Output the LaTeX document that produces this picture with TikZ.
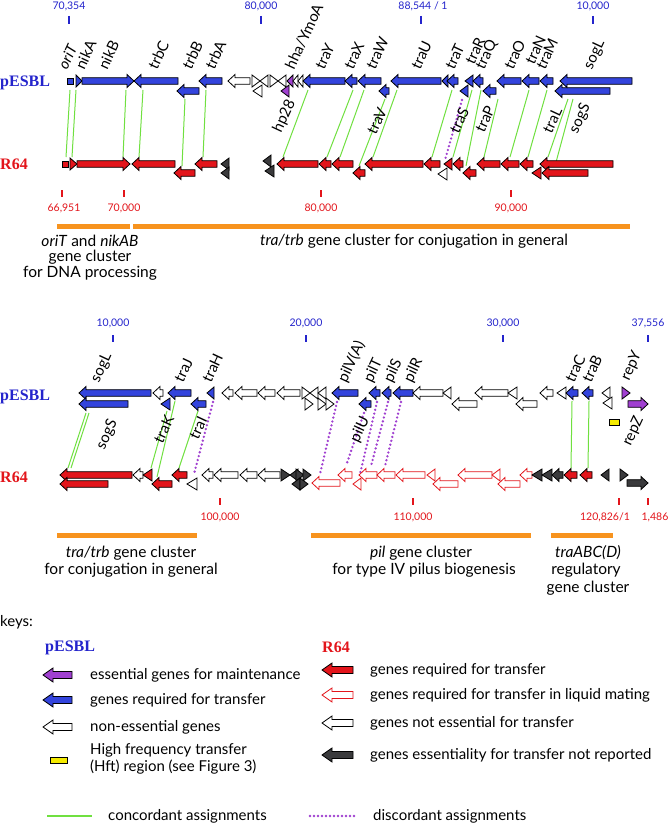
\documentclass[tikz,border=0pt]{standalone}
\usepackage{fontspec}
\setmainfont{Lato}
\newfontfamily\serifb{Liberation Serif}
\definecolor{gblue}{HTML}{3344DD}
\definecolor{lblue}{HTML}{2424CC}
\definecolor{gred}{HTML}{E3151B}
\definecolor{gdark}{HTML}{3A3A3C}
\definecolor{gpur}{HTML}{A040D0}
\definecolor{ggreen}{HTML}{70E040}
\definecolor{gorange}{HTML}{F7931E}
\definecolor{gyel}{HTML}{F5EB00}
\def\gL#1#2#3#4{\filldraw[#4] (#1,#3) -- ({#1+7},{#3-6.5}) -- ({#1+7},{#3-3.3}) -- (#2,{#3-3.3}) -- (#2,{#3+3.3}) -- ({#1+7},{#3+3.3}) -- ({#1+7},{#3+6.5}) -- cycle;}
\def\gR#1#2#3#4{\filldraw[#4] (#2,#3) -- ({#2-7},{#3-6.5}) -- ({#2-7},{#3-3.3}) -- (#1,{#3-3.3}) -- (#1,{#3+3.3}) -- ({#2-7},{#3+3.3}) -- ({#2-7},{#3+6.5}) -- cycle;}
\def\tL#1#2#3#4{\filldraw[#4] (#1,#3) -- (#2,{#3-6}) -- (#2,{#3+6}) -- cycle;}
\def\tR#1#2#3#4{\filldraw[#4] (#2,#3) -- (#1,{#3-6}) -- (#1,{#3+6}) -- cycle;}
\def\sq#1#2#3#4{\filldraw[#4] (#1,{#3-3}) rectangle (#2,{#3+3});}
\def\kL#1#2#3#4{\filldraw[#4] (#1,#3) -- ({#1+10},{#3-7}) -- ({#1+10},{#3-3.5}) -- (#2,{#3-3.5}) -- (#2,{#3+3.5}) -- ({#1+10},{#3+3.5}) -- ({#1+10},{#3+7}) -- cycle;}
\begin{document}
\begin{tikzpicture}[x=1pt,y=-1pt,
  gene/.style={line width=0.8pt,line join=miter},
  blu/.style={gene,fill=gblue,draw=black},
  rd/.style={gene,fill=gred,draw=black},
  wh/.style={gene,fill=white,draw=black},
  dk/.style={gene,fill=gdark,draw=black},
  pu/.style={gene,fill=gpur,draw=black},
  ro/.style={gene,fill=white,draw=gred},
  ye/.style={gene,fill=gyel,draw=black},
  conc/.style={ggreen,line width=1pt},
  disc/.style={gpur,line width=2.6pt,dash pattern=on 0pt off 4pt,line cap=round},
  tkb/.style={lblue,line width=1.2pt},
  tkr/.style={gred,line width=1.2pt},
  tnb/.style={lblue,font=\fontsize{10.5}{11}\selectfont,inner sep=0pt},
  tnr/.style={gred,font=\fontsize{10.5}{11}\selectfont,inner sep=0pt},
  glab/.style={rotate=65,font=\fontsize{15}{16}\selectfont,inner sep=0.5pt},
  glt/.style={glab,anchor=west},
  glb/.style={glab,anchor=east},
  plas/.style={font=\serifb\bfseries\fontsize{16}{18}\selectfont,inner sep=0pt,anchor=west},
  ctext/.style={font=\fontsize{15.5}{17}\selectfont,align=center,inner sep=0pt},
  ktext/.style={font=\fontsize{15}{17}\selectfont,anchor=west,inner sep=0pt,align=left},
  obar/.style={gorange,line width=5pt}
]
\fill[white] (0,0) rectangle (669,824);
\useasboundingbox (0,0) rectangle (669,824);

% ================= TOP PANEL =================
\node[plas,lblue] (p1) at (0,83) {pESBL};
\node[plas,gred] (r1) at (0,164) {R64};

% ticks
\draw[tkb] (69,16) -- (69,24);   \node[tnb] (t1) at (69,6) {70,354};
\draw[tkb] (261,16) -- (261,24); \node[tnb] (t2) at (261,6) {80,000};
\draw[tkb] (421,16) -- (421,24); \node[tnb] (t3) at (423,6) {88,544 / 1};
\draw[tkb] (593,16) -- (593,24); \node[tnb] (t4) at (593,6) {10,000};
\draw[tkr] (62,190) -- (62,197);   \node[tnr] (t5) at (64,208) {66,951};
\draw[tkr] (124,190) -- (124,197); \node[tnr] (t6) at (124,208) {70,000};
\draw[tkr] (321,190) -- (321,197); \node[tnr] (t7) at (321,208) {80,000};
\draw[tkr] (511,190) -- (511,197); \node[tnr] (t8) at (511,208) {90,000};

% connectors
\draw[conc] (70,90) -- (66,157);
\draw[conc] (76,90) -- (72,157);
\draw[conc] (126,90) -- (123,157);
\draw[conc] (143,90) -- (139,157);
\draw[conc] (185,99) -- (182,166);
\draw[conc] (206,90) -- (203,157);
\draw[conc] (308,90) -- (283,157);
\draw[conc] (353,90) -- (327,157);
\draw[conc] (364,90) -- (340,157);
\draw[conc] (385,99) -- (359,166);
\draw[conc] (397,90) -- (373,157);
\draw[conc] (452,90) -- (432,157);
\draw[conc] (472,90) -- (453,157);
\draw[conc] (481,90) -- (466,166);
\draw[conc] (498,99) -- (484,157);
\draw[conc] (529,90) -- (510,157);
\draw[conc] (547,90) -- (528,157);
\draw[conc] (568,99) -- (548,157);
\draw[conc] (573,99) -- (555,166);
\draw[disc] (462,100) -- (445,160);

% pESBL genes
\sq{67}{73}{81}{blu}
\tR{76}{82}{81}{blu}
\gR{82}{134}{81}{blu}
\gL{134}{178}{81}{blu}
\gL{177}{199}{91}{blu}
\gL{199}{222}{81}{blu}
\gL{228}{250}{81}{wh}
\tR{252}{260}{81}{wh}
\tL{260}{268}{81}{wh}
\tL{253}{262}{91}{wh}
\tR{270}{278}{81}{wh}
\tL{278}{286}{81}{wh}
\tL{281}{289}{91}{pu}
\tL{287}{293}{81}{pu}
\tL{293}{298}{81}{wh}
\tL{298}{303}{81}{wh}
\gL{303}{345}{81}{blu}
\gL{345}{357}{81}{blu}
\gL{358}{381}{81}{blu}
\gL{379}{389}{91}{blu}
\gL{391}{441}{81}{blu}
\tL{442}{448}{81}{blu}
\gL{447}{458}{81}{blu}
\tL{460}{468}{91}{blu}
\tL{465}{473}{81}{blu}
\gL{473}{483}{81}{blu}
\gL{483}{496}{91}{blu}
\gL{497}{521}{81}{blu}
\gL{522}{539}{81}{blu}
\gL{540}{553}{81}{blu}
\gL{555}{610}{91}{blu}
\gL{560}{632}{81}{blu}

% R64 genes
\sq{62}{68}{164}{rd}
\tR{70}{77}{164}{rd}
\gR{77}{130}{164}{rd}
\gL{132}{175}{164}{rd}
\gL{174}{195}{173}{rd}
\gL{195}{217}{164}{rd}
\tL{221}{229}{164}{dk}
\tL{221}{229}{173}{dk}
\tL{263}{271}{161}{dk}
\tL{265}{274}{171}{dk}
\gL{277}{318}{164}{rd}
\gL{319}{331}{164}{rd}
\gL{332}{353}{164}{rd}
\gL{353}{365}{173}{rd}
\gL{365}{423}{164}{rd}
\gL{424}{440}{164}{rd}
\tL{438}{447}{174}{wh}
\tL{444}{452}{164}{rd}
\gL{453}{463}{164}{rd}
\gL{463}{476}{173}{rd}
\gL{477}{500}{164}{rd}
\gL{501}{519}{164}{rd}
\gL{520}{533}{164}{rd}
\tL{532}{541}{173}{rd}
\gL{540}{613}{164}{rd}
\gL{542}{588}{173}{rd}

% labels
\node[glt] (a1) at (62,69) {\itshape oriT};
\node[glt] (a2) at (79,69) {nikA};
\node[glt] (a3) at (102,69) {nikB};
\node[glt] (a4) at (152,69) {trbC};
\node[glt] (a5) at (186,69) {trbB};
\node[glt] (a6) at (209,69) {trbA};
\node[glt] (a7) at (289,69) {hha/YmoA};
\node[glt] (a8) at (319,69) {traY};
\node[glt] (a9) at (348,69) {traX};
\node[glt] (a10) at (370,69) {traW};
\node[glt] (a11) at (415,69) {traU};
\node[glt] (a12) at (449,69) {traT};
\node[glt] (a13) at (469,64) {traR};
\node[glt] (a14) at (480,69) {traQ};
\node[glt] (a15) at (508,69) {traO};
\node[glt] (a16) at (529,64) {traN};
\node[glt] (a17) at (540,69) {traM};
\node[glt] (a18) at (588,69) {sogL};
\node[glb] (b1) at (292,100) {hp28};
\node[glb] (b2) at (383,108) {traV};
\node[glb] (b3) at (465,108) {traS};
\node[glb] (b4) at (491,106) {traP};
\node[glb] (b5) at (558,108) {traL};
\node[glb] (b6) at (587,104) {sogS};

% clusters
\draw[obar] (57,226) -- (130,226);
\draw[obar] (133,226) -- (630,226);
\node[ctext] (c1) at (90,241) {\textit{oriT} and \textit{nikAB}};
\node[ctext] (c2) at (90,257) {gene cluster};
\node[ctext] (c3) at (90,273) {for DNA processing};
\node[ctext] (c4) at (414,241) {\textit{tra/trb} gene cluster for conjugation in general};

% ================= MIDDLE PANEL =================
\node[plas,lblue] (p2) at (0,397) {pESBL};
\node[plas,gred] (r2) at (0,477) {R64};

\draw[tkb] (113,335) -- (113,342); \node[tnb] (u1) at (113,323) {10,000};
\draw[tkb] (306,335) -- (306,342); \node[tnb] (u2) at (306,323) {20,000};
\draw[tkb] (503,335) -- (503,342); \node[tnb] (u3) at (503,323) {30,000};
\draw[tkb] (648,335) -- (648,342); \node[tnb] (u4) at (648,323) {37,556};
\draw[tkr] (220,498) -- (220,505); \node[tnr] (u5) at (220,517) {100,000};
\draw[tkr] (413,498) -- (413,505); \node[tnr] (u6) at (413,517) {110,000};
\draw[tkr] (619,498) -- (619,505); \node[tnr] (u7) at (605,517) {120,826/1};
\draw[tkr] (648,498) -- (648,505); \node[tnr] (u8) at (655,517) {1,486};

\draw[conc] (86,413) -- (68,468);
\draw[conc] (89,413) -- (71,468);
\draw[conc] (167,411) -- (151,468);
\draw[conc] (175,401) -- (157,477);
\draw[conc] (198,411) -- (179,468);
\draw[conc] (572,401) -- (571,468);
\draw[conc] (589,401) -- (588,468);
\draw[disc] (213,402) -- (194,474);
\draw[disc] (337,402) -- (320,474);
\draw[disc] (364,413) -- (346,466);
\draw[disc] (377,402) -- (360,474);
\draw[disc] (388,402) -- (371,466);
\draw[disc] (401,402) -- (385,466);

% pESBL genes
\gL{79}{151}{393}{blu}
\gL{79}{128}{404}{blu}
\gL{153}{163}{393}{wh}
\tL{161}{170}{404}{blu}
\gL{168}{191}{393}{blu}
\gL{191}{206}{404}{blu}
\tL{207}{214}{393}{blu}
\gL{222}{233}{393}{wh}
\gL{235}{257}{393}{wh}
\gL{258}{275}{393}{wh}
\gL{277}{300}{393}{wh}
\tR{302}{310}{393}{wh}
\tL{310}{318}{393}{wh}
\tL{318}{326}{393}{wh}
\tR{305}{313}{404}{wh}
\tR{318}{326}{404}{wh}
\tR{326}{334}{404}{wh}
\gL{332}{358}{393}{blu}
\gL{359}{371}{404}{blu}
\gL{369}{380}{393}{blu}
\gL{382}{391}{393}{blu}
\gL{393}{413}{393}{blu}
\gL{413}{443}{393}{wh}
\tL{443}{451}{393}{wh}
\gL{452}{477}{404}{wh}
\gL{475}{508}{393}{wh}
\tL{508}{517}{393}{wh}
\gL{516}{537}{404}{wh}
\gL{540}{553}{393}{wh}
\tL{557}{566}{393}{wh}
\gL{566}{578}{393}{blu}
\gL{582}{593}{393}{blu}
\tL{602}{610}{393}{wh}
\tL{603}{612}{403}{wh}
\filldraw[ye] (609,419) rectangle (619,425);
\tR{622}{630}{393}{pu}
\gR{628}{648}{404}{pu}

% R64 genes
\gL{60}{132}{475}{rd}
\gL{60}{108}{484}{rd}
\gL{133}{143}{475}{wh}
\tL{143}{152}{475}{rd}
\gL{152}{172}{484}{rd}
\gL{172}{187}{475}{rd}
\tL{187}{197}{484}{wh}
\gL{202}{213}{475}{wh}
\gL{214}{238}{475}{wh}
\gL{240}{257}{475}{wh}
\gL{258}{280}{475}{wh}
\tR{281}{290}{475}{dk}
\tL{290}{298}{475}{dk}
\tR{296}{304}{475}{dk}
\tR{303}{311}{475}{dk}
\tL{292}{300}{484}{dk}
\tR{300}{308}{484}{dk}
\gL{312}{340}{483}{ro}
\gL{338}{352}{475}{ro}
\tL{353}{361}{484}{ro}
\gL{359}{377}{475}{ro}
\gL{377}{395}{475}{ro}
\gL{396}{425}{475}{ro}
\tL{427}{435}{475}{ro}
\gL{433}{458}{484}{ro}
\gL{458}{492}{475}{ro}
\tL{492}{500}{475}{ro}
\gL{498}{520}{484}{ro}
\gL{520}{532}{475}{ro}
\tL{532}{542}{475}{dk}
\tL{542}{552}{475}{dk}
\gL{552}{563}{475}{dk}
\gL{564}{577}{475}{rd}
\gL{580}{592}{475}{rd}
\tL{601}{609}{475}{dk}
\tR{620}{628}{475}{dk}
\gR{627}{648}{483}{dk}

% labels
\node[glt] (m1) at (95,382) {sogL};
\node[glt] (m2) at (178,382) {traJ};
\node[glt] (m3) at (206,382) {traH};
\node[glt] (m4) at (342,382) {pilV(A)};
\node[glt] (m5) at (368,382) {pilT};
\node[glt] (m6) at (388,382) {pilS};
\node[glt] (m7) at (408,382) {pilR};
\node[glt] (m8) at (569,382) {traC};
\node[glt] (m9) at (586,382) {traB};
\node[glt] (m10) at (625,380) {repY};
\node[glb] (n1) at (114,420) {sogS};
\node[glb] (n2) at (170,416) {traK};
\node[glb] (n3) at (203,417) {traI};
\node[glb] (n4) at (366,417) {pilU};
\node[glb] (n5) at (640,417) {repZ};

% clusters
\draw[obar] (57,535) -- (197,535);
\draw[obar] (311,535) -- (531,535);
\draw[obar] (551,535) -- (613,535);
\node[ctext] (d1) at (131,553) {\textit{tra/trb} gene cluster};
\node[ctext] (d2) at (131,570) {for conjugation in general};
\node[ctext] (d3) at (421,553) {\textit{pil} gene cluster};
\node[ctext] (d4) at (424,570) {for type IV pilus biogenesis};
\node[ctext] (d5) at (588,553) {\textit{traABC(D)}};
\node[ctext] (d6) at (586,570) {regulatory};
\node[ctext] (d7) at (588,588) {gene cluster};

% ================= KEYS =================
\node[ktext] (k0) at (0,622) {keys:};
\node[plas,lblue] (kp) at (45,648) {pESBL};
\node[plas,gred] (kr) at (322,647) {R64};
\kL{43}{72}{675}{pu}
\kL{43}{72}{700}{blu}
\kL{43}{72}{727}{wh}
\filldraw[ye] (50,757) rectangle (67,763);
\node[ktext] (k1) at (90,675) {essential genes for maintenance};
\node[ktext] (k2) at (90,700) {genes required for transfer};
\node[ktext] (k3) at (90,727) {non-essential genes};
\node[ktext] (k4) at (90,759) {High frequency transfer\\(Hft) region (see Figure 3)};
\kL{322}{353}{670}{rd}
\kL{322}{353}{695}{ro}
\kL{322}{353}{723}{wh}
\kL{322}{353}{755}{dk}
\node[ktext] (k5) at (370,670) {genes required for transfer};
\node[ktext] (k6) at (370,695) {genes required for transfer in liquid mating};
\node[ktext] (k7) at (370,723) {genes not essential for transfer};
\node[ktext] (k8) at (370,755) {genes essentiality for transfer not reported};
\coordinate (g1) at (47,816); \coordinate (g2) at (92,816);
\draw[conc,line width=1.2pt] (g1) -- (g2);
\node[ktext] (k9) at (108,816) {concordant assignments};
\coordinate (h1) at (310,816); \coordinate (h2) at (355,816);
\draw[disc] (h1) -- (h2);
\node[ktext] (k10) at (373,816) {discordant assignments};
\end{tikzpicture}
\end{document}
